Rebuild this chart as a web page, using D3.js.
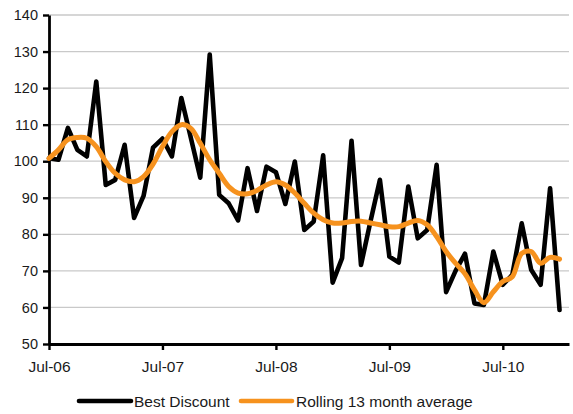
<!DOCTYPE html>
<html>
<head>
<meta charset="utf-8">
<script src="https://cdn.jsdelivr.net/npm/d3@7"></script>
<style>
  html, body { margin: 0; padding: 0; background: #fff; }
  svg { display: block; font-family: "Liberation Sans", Arial, sans-serif; }
</style>
</head>
<body>
<svg id="chart" width="573" height="414"></svg>
<script>
// Monthly index values, Jul-06 (index 0) through Jan-11 (index 54)
const bestDiscount = [100.8, 100.4, 109.1, 103.1, 101.3, 121.8, 93.5, 94.9, 104.5, 84.5,
  90.5, 103.7, 106.2, 101.3, 117.3, 106.4, 95.5, 129.2, 90.8, 88.5,
  83.8, 98.1, 86.4, 98.5, 97.0, 88.3, 99.9, 81.2, 83.5, 101.6,
  66.8, 73.5, 105.6, 71.6, 83.5, 94.9, 73.9, 72.3, 93.1, 78.9,
  81.2, 99.0, 64.2, 70.0, 74.7, 61.1, 60.7, 75.3, 66.2, 68.9,
  83.0, 70.3, 66.2, 92.6, 59.3];

const rollingAverage = [100.8, 103.1, 105.9, 106.5, 106.3, 104.0, 99.9, 96.7, 94.9, 94.4,
  95.8, 99.2, 104.0, 108.1, 110.0, 109.0, 104.9, 100.4, 96.7, 93.1,
  91.3, 91.1, 92.0, 93.5, 94.4, 93.5, 91.3, 88.5, 85.8, 84.0,
  83.1, 83.1, 83.5, 83.6, 83.1, 82.6, 82.1, 82.1, 83.1, 83.8,
  82.6, 79.4, 75.3, 72.1, 69.2, 64.8, 61.3, 64.3, 67.1, 68.4,
  74.8, 75.3, 72.1, 73.7, 73.2];

const xTickMonths = [0, 12, 24, 36, 48];
const xTickLabels = ["Jul-06", "Jul-07", "Jul-08", "Jul-09", "Jul-10"];
const yTicks = [50, 60, 70, 80, 90, 100, 110, 120, 130, 140];

const seriesNames = ["Best Discount", "Rolling 13 month average"];
const seriesColors = ["#000000", "#F6921E"];

const svg = d3.select("#chart");
const margin = { left: 49, right: 4, top: 15, bottom: 70 };
const W = 573, H = 414;

const x = d3.scaleLinear().domain([0, 55]).range([margin.left, W - margin.right]);
const y = d3.scaleLinear().domain([50, 140]).range([H - margin.bottom, margin.top]);

// horizontal gridlines
svg.append("g")
  .selectAll("line")
  .data(yTicks.filter(d => d > 50))
  .join("line")
  .attr("x1", x(0)).attr("x2", x(55))
  .attr("y1", d => y(d)).attr("y2", d => y(d))
  .attr("stroke", "#c9c9c9")
  .attr("stroke-width", 1.3);

// y axis
const yAxis = svg.append("g")
  .attr("transform", `translate(${x(0)},0)`)
  .call(d3.axisLeft(y).tickValues(yTicks).tickSize(6).tickPadding(5).tickSizeOuter(0));
yAxis.select(".domain").attr("stroke", "#000").attr("stroke-width", 2.8);
yAxis.selectAll(".tick line").attr("stroke", "#000").attr("stroke-width", 2.4);
yAxis.selectAll(".tick text")
  .attr("font-size", 14.5).attr("fill", "#1a1a1a")
  .attr("font-family", "'Liberation Sans', Arial, sans-serif");

// x axis
const xAxis = svg.append("g")
  .attr("transform", `translate(0,${y(50)})`)
  .call(d3.axisBottom(x).tickValues(xTickMonths)
    .tickFormat((d, i) => xTickLabels[i]).tickSize(6).tickPadding(11).tickSizeOuter(0));
xAxis.select(".domain").attr("stroke", "#000").attr("stroke-width", 2.8);
xAxis.selectAll(".tick line").attr("stroke", "#000").attr("stroke-width", 2.4);
xAxis.selectAll(".tick text")
  .attr("font-size", 15.5).attr("fill", "#1a1a1a")
  .attr("font-family", "'Liberation Sans', Arial, sans-serif");

// series lines
const straight = d3.line().x((d, i) => x(i)).y(d => y(d));
const smooth = d3.line().x((d, i) => x(i)).y(d => y(d)).curve(d3.curveCatmullRom.alpha(0.5));

svg.append("path")
  .datum(bestDiscount)
  .attr("d", straight)
  .attr("fill", "none")
  .attr("stroke", seriesColors[0])
  .attr("stroke-width", 4.6)
  .attr("stroke-linejoin", "round")
  .attr("stroke-linecap", "round");

svg.append("path")
  .datum(rollingAverage)
  .attr("d", smooth)
  .attr("fill", "none")
  .attr("stroke", seriesColors[1])
  .attr("stroke-width", 5)
  .attr("stroke-linejoin", "round")
  .attr("stroke-linecap", "round");

// legend
const legendItems = [
  { name: seriesNames[0], color: seriesColors[0], x1: 79, x2: 131, tx: 134 },
  { name: seriesNames[1], color: seriesColors[1], x1: 241, x2: 292, tx: 296 }
];
const legend = svg.append("g");
legend.selectAll("line")
  .data(legendItems)
  .join("line")
  .attr("x1", d => d.x1).attr("x2", d => d.x2)
  .attr("y1", 401).attr("y2", 401)
  .attr("stroke", d => d.color)
  .attr("stroke-width", 4.6)
  .attr("stroke-linecap", "round");
legend.selectAll("text")
  .data(legendItems)
  .join("text")
  .attr("x", d => d.tx).attr("y", 407)
  .attr("font-size", 15.5)
  .attr("fill", "#1a1a1a")
  .text(d => d.name);
</script>
</body>
</html>
